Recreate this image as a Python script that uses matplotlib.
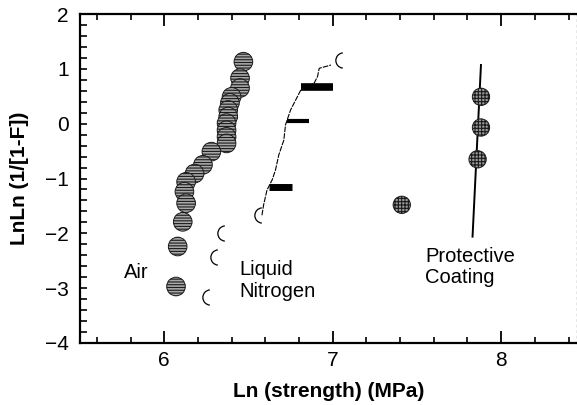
import numpy as np
import matplotlib
matplotlib.use("Agg")
import matplotlib.pyplot as plt
from matplotlib.path import Path
from matplotlib.ticker import MultipleLocator

plt.rcParams['font.family'] = ['Liberation Sans', 'DejaVu Sans']
plt.rcParams['hatch.linewidth'] = 0.8

# Air specimens
air_x = [6.47, 6.45, 6.45, 6.40, 6.39, 6.38, 6.38, 6.37, 6.37, 6.37, 6.37,
         6.28, 6.23, 6.18, 6.13, 6.12, 6.13, 6.11, 6.08, 6.07]
air_y = [1.13, 0.83, 0.65, 0.49, 0.38, 0.25, 0.13, 0.01, -0.12, -0.24, -0.36,
         -0.51, -0.75, -0.91, -1.06, -1.24, -1.45, -1.79, -2.24, -2.97]

# Liquid nitrogen specimens (open markers)
ln2_x = [7.06, 6.58, 6.36, 6.32, 6.27]
ln2_y = [1.16, -1.67, -2.00, -2.44, -3.16]
# densely overlapping nitrogen points (read as a trace)
ln2_trace_x = [6.58, 6.59, 6.61, 6.62, 6.64, 6.66, 6.68, 6.71, 6.72, 6.73,
               6.75, 6.78, 6.81, 6.89, 6.91, 6.92, 6.99]
ln2_trace_y = [-1.67, -1.48, -1.21, -1.15, -1.03, -0.85, -0.57, -0.30, -0.02, 0.07,
               0.25, 0.43, 0.61, 0.74, 0.86, 1.01, 1.07]
# flat clusters of nitrogen points
ln2_bar_y = [0.66, 0.04, -1.15]
ln2_bar_x0 = [6.81, 6.73, 6.62]
ln2_bar_x1 = [7.00, 6.86, 6.76]
ln2_bar_w = [5.5, 3.0, 5.0]

# Protective coating specimens and fit line
coat_x = [7.88, 7.88, 7.86, 7.41]
coat_y = [0.49, -0.07, -0.65, -1.48]
coat_fit_x = [7.88, 7.83]
coat_fit_y = [1.07, -2.06]

fig = plt.figure(figsize=(5.77, 4.05), dpi=100)
ax = fig.add_axes([0.1386, 0.1531, 0.8614, 0.8123])

# protective coating fit line
ax.plot(coat_fit_x, coat_fit_y, color='black', lw=1.4, zorder=2)

# nitrogen
ax.plot(ln2_trace_x, ln2_trace_y, color='black', lw=0.8, ls=(0, (5, 1)), zorder=2)
ax.hlines(ln2_bar_y, ln2_bar_x0, ln2_bar_x1, colors='black', linewidths=ln2_bar_w, zorder=2)
half_circle = Path.arc(95, 265)
ax.plot(ln2_x, ln2_y, ls='none', marker=half_circle, markersize=11,
        markerfacecolor='none', markeredgecolor='black', markeredgewidth=0.9, zorder=3)

# air
ax.scatter(air_x, air_y, s=180, facecolor='#a8a8a8', edgecolor='#1a1a1a',
           hatch='------', linewidth=0.7, zorder=4)

# protective coating points
ax.scatter(coat_x, coat_y, s=155, facecolor='#9a9a9a', edgecolor='#1a1a1a',
           hatch='+++++', linewidth=0.7, zorder=4)

ax.text(5.834, -2.72, 'Air', fontsize=14.5, ha='center', va='center')
ax.text(6.445, -2.86, 'Liquid\nNitrogen', fontsize=14.5, ha='left', va='center',
        linespacing=1.15)
ax.text(7.549, -2.61, 'Protective\nCoating', fontsize=14.5, ha='left', va='center',
        linespacing=1.15)

ax.set_xlim(5.5, 8.45)
ax.set_ylim(-4, 2)
ax.xaxis.set_major_locator(MultipleLocator(1))
ax.xaxis.set_minor_locator(MultipleLocator(0.2))
ax.yaxis.set_major_locator(MultipleLocator(1))
ax.yaxis.set_minor_locator(MultipleLocator(0.2))
ax.set_yticks([2, 1, 0, -1, -2, -3, -4])
ax.set_yticklabels(['2', '1', '0', '\u22121', '\u22122', '\u22123', '\u22124'])

ax.tick_params(axis='x', which='major', direction='in', length=8.5, width=1.3,
               top=True, labelsize=15, pad=6)
ax.tick_params(axis='x', which='minor', direction='in', length=4.5, width=1.2, top=True)
ax.tick_params(axis='y', which='both', direction='in', length=5, width=1.2,
               right=False, labelsize=15, pad=8)

for side in ['left', 'bottom', 'top']:
    ax.spines[side].set_linewidth(1.6)
ax.spines['right'].set_linestyle((0, (1, 3)))
ax.spines['right'].set_color('#888888')
ax.spines['right'].set_linewidth(1.0)

ax.set_xlabel('Ln (strength) (MPa)', fontsize=15, fontweight='bold')
ax.set_ylabel('LnLn (1/[1-F])', fontsize=15, fontweight='bold')
ax.xaxis.set_label_coords(0.5, -0.118)
ax.yaxis.set_label_coords(-0.103, 0.5)

fig.savefig('out.png', dpi=100)
